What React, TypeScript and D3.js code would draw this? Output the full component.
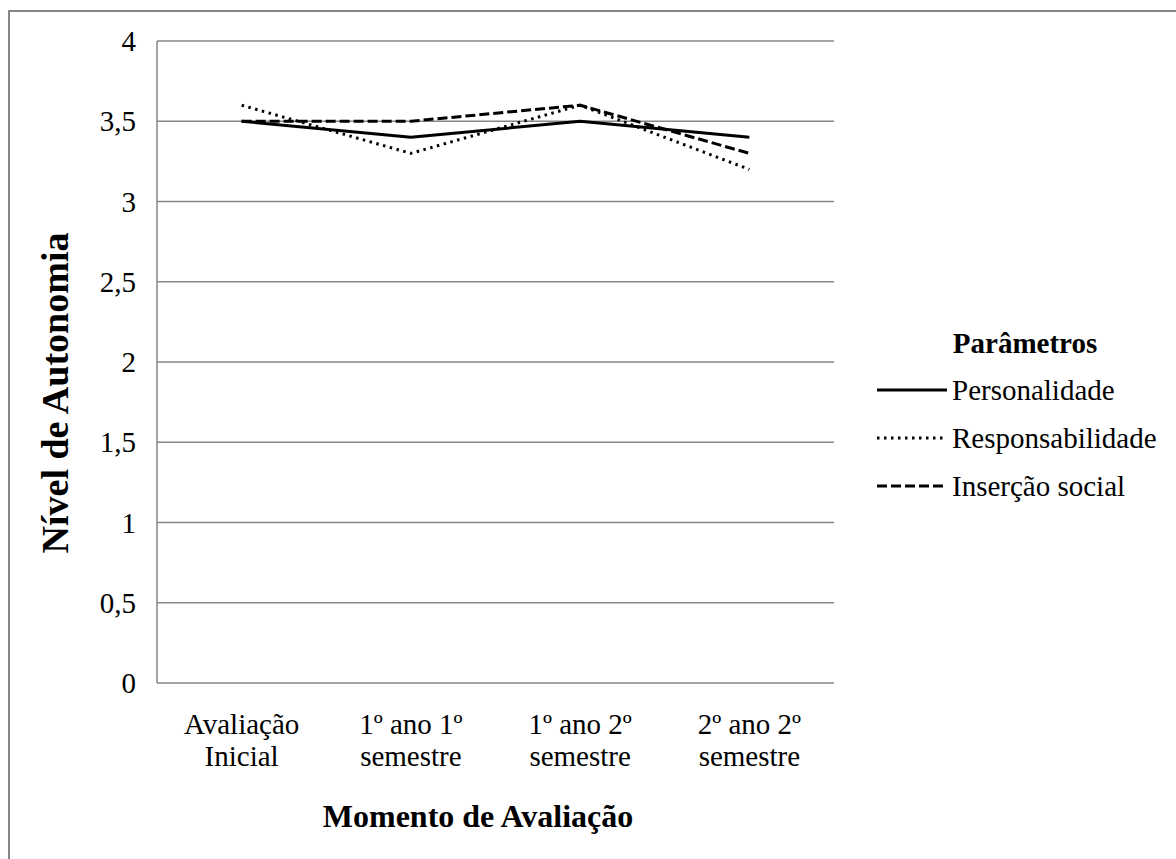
import * as d3 from 'd3';
import React from 'react';

const categories = [
  ['Avaliação', 'Inicial'],
  ['1º ano 1º', 'semestre'],
  ['1º ano 2º', 'semestre'],
  ['2º ano 2º', 'semestre'],
];
const personalidade = [3.5, 3.4, 3.5, 3.4];
const responsabilidade = [3.6, 3.3, 3.6, 3.2];
const insercaoSocial = [3.5, 3.5, 3.6, 3.3];
const yTicks = [0, 0.5, 1, 1.5, 2, 2.5, 3, 3.5, 4];

const series = [
  { name: 'Personalidade', values: personalidade, dash: 'none' },
  { name: 'Responsabilidade', values: responsabilidade, dash: '2.5 4.5' },
  { name: 'Inserção social', values: insercaoSocial, dash: '10 4' },
];

const W = 1176;
const H = 859;
const plot = { left: 157, right: 834, top: 41, bottom: 683 };
const serif = { fontFamily: "'Liberation Serif', 'Times New Roman', 'DejaVu Serif', serif" };

const App: React.FC = () => {
  const x = d3
    .scaleBand<number>()
    .domain(d3.range(categories.length))
    .range([plot.left, plot.right]);
  const y = d3.scaleLinear().domain([0, 4]).range([plot.bottom, plot.top]);
  const cx = (i: number) => (x(i) as number) + x.bandwidth() / 2;
  const line = d3
    .line<number>()
    .x((_, i) => cx(i))
    .y((d) => y(d));

  return (
    <div style={{ position: 'absolute', left: 0, top: 0 }}>
      <svg width={W} height={H} style={{ display: 'block', background: 'white' }}>
        <rect x={9} y={11} width={W + 20} height={H + 20} fill='white' stroke='#868686' strokeWidth={2} />
        <g stroke='#868686' strokeWidth={1.5}>
          {yTicks.map((t) => (
            <line key={t} x1={plot.left} x2={plot.right} y1={y(t)} y2={y(t)} />
          ))}
          <line x1={plot.left} x2={plot.left} y1={plot.top} y2={plot.bottom} />
        </g>
        <g style={serif} fontSize={29} fill='black'>
          {yTicks.map((t) => (
            <text key={t} x={136} y={y(t)} dy='0.35em' textAnchor='end'>
              {String(t).replace('.', ',')}
            </text>
          ))}
          {categories.map((c, i) => (
            <text key={i} textAnchor='middle'>
              <tspan x={cx(i)} y={734}>{c[0]}</tspan>
              <tspan x={cx(i)} y={766}>{c[1]}</tspan>
            </text>
          ))}
          <text x={478} y={827} textAnchor='middle' fontWeight='bold' fontSize={32}>
            Momento de Avaliação
          </text>
          <text
            transform={`translate(68,393) rotate(-90)`}
            textAnchor='middle'
            fontWeight='bold'
            fontSize={38}
          >
            Nível de Autonomia
          </text>
        </g>
        <g fill='none' stroke='black' strokeWidth={3}>
          {series.map((s) => (
            <path
              key={s.name}
              d={line(s.values) ?? ''}
              strokeDasharray={s.dash}
              strokeLinejoin='round'
            />
          ))}
        </g>
        <g style={serif} fontSize={29}>
          <text x={1025} y={353} textAnchor='middle' fontWeight='bold'>
            Parâmetros
          </text>
          {series.map((s, i) => (
            <g key={s.name} transform={`translate(0,${390 + i * 48})`}>
              <line x1={877} x2={947} y1={0} y2={0} stroke='black' strokeWidth={3} strokeDasharray={s.dash} />
              <text x={952} y={0} dy='0.33em'>
                {s.name}
              </text>
            </g>
          ))}
        </g>
      </svg>
    </div>
  );
};

export default App;
